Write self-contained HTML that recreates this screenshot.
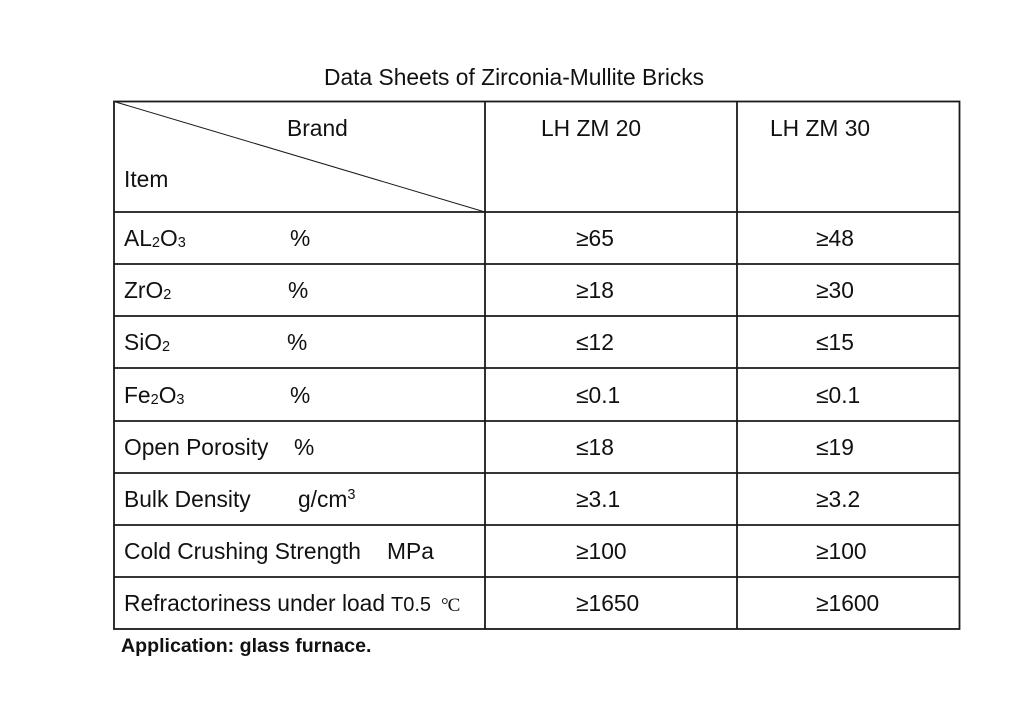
<!DOCTYPE html>
<html>
<head>
<meta charset="utf-8">
<style>
  html, body { margin:0; padding:0; background:#ffffff; }
  body { width:1024px; height:713px; overflow:hidden; }
  svg { display:block; }
  text { font-family: "Liberation Sans", Arial, sans-serif; fill:#111; }
</style>
</head>
<body>
<svg width="1024" height="713" viewBox="0 0 1024 713" xmlns="http://www.w3.org/2000/svg">
  <rect x="0" y="0" width="1024" height="713" fill="#ffffff"/>

  <!-- Title -->
  <text x="324" y="85" font-size="22.8">Data Sheets of Zirconia-Mullite Bricks</text>

  <!-- Table lines -->
  <g stroke="#1a1a1a" stroke-width="1.8" fill="none">
    <rect x="114" y="101.5" width="845.5" height="527.5"/>
    <line x1="485" y1="101.5" x2="485" y2="629"/>
    <line x1="737" y1="101.5" x2="737" y2="629"/>
    <line x1="114" y1="212" x2="959.5" y2="212"/>
    <line x1="114" y1="264" x2="959.5" y2="264"/>
    <line x1="114" y1="316" x2="959.5" y2="316"/>
    <line x1="114" y1="368" x2="959.5" y2="368"/>
    <line x1="114" y1="421" x2="959.5" y2="421"/>
    <line x1="114" y1="473" x2="959.5" y2="473"/>
    <line x1="114" y1="525" x2="959.5" y2="525"/>
    <line x1="114" y1="577" x2="959.5" y2="577"/>
  </g>
  <line x1="114" y1="101.5" x2="485" y2="212" stroke="#1a1a1a" stroke-width="1"/>

  <!-- Header -->
  <text x="287" y="136" font-size="22.8">Brand</text>
  <text x="124" y="187" font-size="22.8">Item</text>
  <text x="541" y="136" font-size="22.8">LH ZM 20</text>
  <text x="770" y="136" font-size="22.8">LH ZM 30</text>

  <!-- Row labels -->
  <text x="124" y="246" font-size="22.8">AL<tspan font-size="14.5" dy="1">2</tspan><tspan dy="-1">O</tspan><tspan font-size="14.5" dy="1">3</tspan></text>
  <text x="290" y="246" font-size="22.8">%</text>

  <text x="124" y="298" font-size="22.8">ZrO<tspan font-size="14.5" dy="1">2</tspan></text>
  <text x="288" y="298" font-size="22.8">%</text>

  <text x="124" y="350" font-size="22.8">SiO<tspan font-size="14.5" dy="1">2</tspan></text>
  <text x="287" y="350" font-size="22.8">%</text>

  <text x="124" y="403" font-size="22.8">Fe<tspan font-size="14.5" dy="1">2</tspan><tspan dy="-1">O</tspan><tspan font-size="14.5" dy="1">3</tspan></text>
  <text x="290" y="403" font-size="22.8">%</text>

  <text x="124" y="455" font-size="22.8">Open Porosity</text>
  <text x="294" y="455" font-size="22.8">%</text>

  <text x="124" y="507" font-size="22.8">Bulk Density</text>
  <text x="298" y="507" font-size="22.8">g/cm<tspan font-size="14.5" dy="-8">3</tspan></text>

  <text x="124" y="559" font-size="22.8">Cold Crushing Strength</text>
  <text x="387" y="559" font-size="22.8">MPa</text>

  <text x="124" y="611" font-size="22.8">Refractoriness under load</text>
  <text x="391" y="611" font-size="20">T0.5</text>
  <text x="441" y="611" font-size="19" letter-spacing="-1" style="font-family:'Liberation Serif',serif;">°C</text>

  <!-- Values column 1 -->
  <text x="576" y="246" font-size="22.8">≥65</text>
  <text x="576" y="298" font-size="22.8">≥18</text>
  <text x="576" y="350" font-size="22.8">≤12</text>
  <text x="576" y="403" font-size="22.8">≤0.1</text>
  <text x="576" y="455" font-size="22.8">≤18</text>
  <text x="576" y="507" font-size="22.8">≥3.1</text>
  <text x="576" y="559" font-size="22.8">≥100</text>
  <text x="576" y="611" font-size="22.8">≥1650</text>

  <!-- Values column 2 -->
  <text x="816" y="246" font-size="22.8">≥48</text>
  <text x="816" y="298" font-size="22.8">≥30</text>
  <text x="816" y="350" font-size="22.8">≤15</text>
  <text x="816" y="403" font-size="22.8">≤0.1</text>
  <text x="816" y="455" font-size="22.8">≤19</text>
  <text x="816" y="507" font-size="22.8">≥3.2</text>
  <text x="816" y="559" font-size="22.8">≥100</text>
  <text x="816" y="611" font-size="22.8">≥1600</text>

  <!-- Footer note -->
  <text x="121" y="652" font-size="19.6" font-weight="bold">Application: glass furnace.</text>
</svg>
</body>
</html>
